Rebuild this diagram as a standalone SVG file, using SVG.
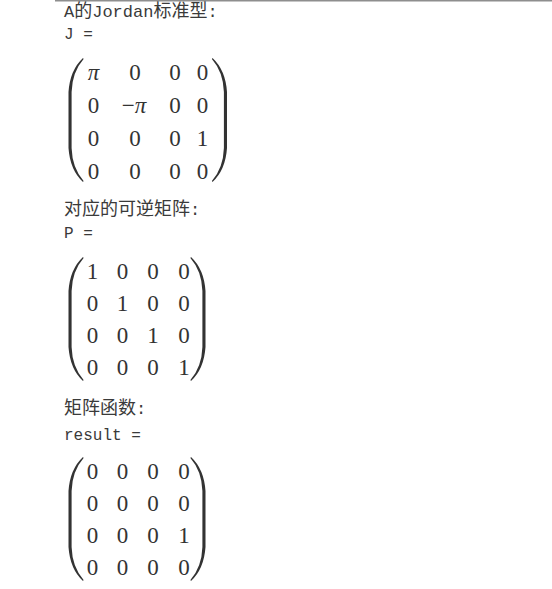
<svg xmlns="http://www.w3.org/2000/svg" xmlns:xlink="http://www.w3.org/1999/xlink" width="552" height="589" viewBox="0 0 552 589">
<style>
.m{font-family:"Liberation Mono","DejaVu Sans Mono",monospace;}
.c{font-family:"Noto Sans CJK SC","Noto Sans",sans-serif;}
.lbl{fill:#3a3a3a;}
.mx{font-family:"Liberation Serif","DejaVu Serif",serif;font-size:23px;fill:#333;text-anchor:middle;}
.it{font-style:italic;}
.par{fill:#333;}
</style>
<defs>
<path id="lp" d="M15 0 Q2 12 0.5 34 L0.5 90 Q2 112 15 124 L15.6 123 Q4.2 110 3.6 90 L3.6 34 Q4.2 14 15.6 1 Z"/>
</defs>
<rect x="0" y="0" width="552" height="589" fill="#fff"/>
<rect x="55" y="0" width="497" height="1.5" fill="#8e8e8e"/>

<g id="label-jordan" class="lbl">
<text x="64" y="16.5"><tspan class="m" font-size="17">A</tspan><tspan class="c" font-size="18">的</tspan><tspan class="m" font-size="17">Jordan</tspan><tspan class="c" font-size="18">标准型</tspan><tspan class="m" font-size="17">:</tspan></text>
<text x="64" y="39" class="m" font-size="16" xml:space="preserve">J =</text>
</g>

<g id="matrix-j">
<use xlink:href="#lp" class="par" transform="translate(68,58)"/>
<use xlink:href="#lp" class="par" transform="translate(227.5,58) scale(-1,1)"/>
<text class="mx" y="80"><tspan x="93.5" class="it">π</tspan><tspan x="135">0</tspan><tspan x="175">0</tspan><tspan x="202.5">0</tspan></text>
<text class="mx" y="113"><tspan x="93.5">0</tspan><tspan x="134">−<tspan class="it">π</tspan></tspan><tspan x="175">0</tspan><tspan x="202.5">0</tspan></text>
<text class="mx" y="146"><tspan x="93.5">0</tspan><tspan x="135">0</tspan><tspan x="175">0</tspan><tspan x="202.5">1</tspan></text>
<text class="mx" y="179"><tspan x="93.5">0</tspan><tspan x="135">0</tspan><tspan x="175">0</tspan><tspan x="202.5">0</tspan></text>
</g>

<g id="label-p" class="lbl">
<text x="64" y="215"><tspan class="c" font-size="18">对应的可逆矩阵</tspan><tspan class="m" font-size="17">:</tspan></text>
<text x="64" y="238" class="m" font-size="16" xml:space="preserve">P =</text>
</g>

<g id="matrix-p">
<use xlink:href="#lp" class="par" transform="translate(68,257)"/>
<use xlink:href="#lp" class="par" transform="translate(206,257) scale(-1,1)"/>
<text class="mx" y="279"><tspan x="92.5">1</tspan><tspan x="122.5">0</tspan><tspan x="153">0</tspan><tspan x="184">0</tspan></text>
<text class="mx" y="311"><tspan x="92.5">0</tspan><tspan x="122.5">1</tspan><tspan x="153">0</tspan><tspan x="184">0</tspan></text>
<text class="mx" y="343"><tspan x="92.5">0</tspan><tspan x="122.5">0</tspan><tspan x="153">1</tspan><tspan x="184">0</tspan></text>
<text class="mx" y="375"><tspan x="92.5">0</tspan><tspan x="122.5">0</tspan><tspan x="153">0</tspan><tspan x="184">1</tspan></text>
</g>

<g id="label-result" class="lbl">
<text x="64" y="414"><tspan class="c" font-size="18">矩阵函数</tspan><tspan class="m" font-size="17">:</tspan></text>
<text x="64" y="440" class="m" font-size="16" xml:space="preserve">result =</text>
</g>

<g id="matrix-result">
<use xlink:href="#lp" class="par" transform="translate(68,457)"/>
<use xlink:href="#lp" class="par" transform="translate(206,457) scale(-1,1)"/>
<text class="mx" y="479"><tspan x="92.5">0</tspan><tspan x="122.5">0</tspan><tspan x="153">0</tspan><tspan x="184">0</tspan></text>
<text class="mx" y="511"><tspan x="92.5">0</tspan><tspan x="122.5">0</tspan><tspan x="153">0</tspan><tspan x="184">0</tspan></text>
<text class="mx" y="543"><tspan x="92.5">0</tspan><tspan x="122.5">0</tspan><tspan x="153">0</tspan><tspan x="184">1</tspan></text>
<text class="mx" y="575"><tspan x="92.5">0</tspan><tspan x="122.5">0</tspan><tspan x="153">0</tspan><tspan x="184">0</tspan></text>
</g>
</svg>
